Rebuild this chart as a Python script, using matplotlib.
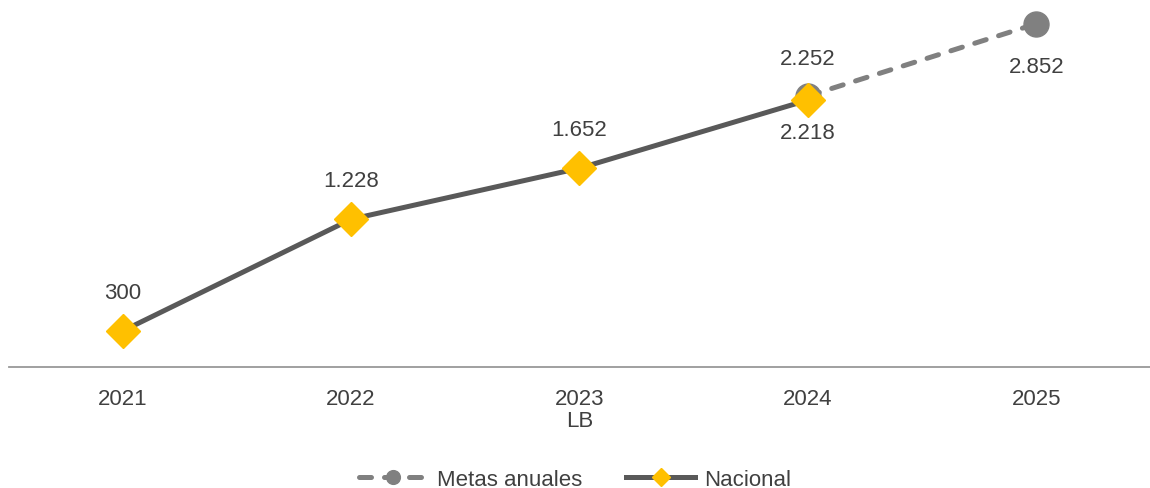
import matplotlib
matplotlib.use("Agg")
import matplotlib.pyplot as plt

plt.rcParams['font.family'] = ['Liberation Sans', 'DejaVu Sans']

# datos
anios = ['2021', '2022', '2023\nLB', '2024', '2025']
nacional = [300, 1228, 1652, 2218]
metas_idx = [3, 4]
metas = [2252, 2852]

def fmt(v):
    return f"{v:,}".replace(',', '.')

fig = plt.figure(figsize=(11.5, 4.89), dpi=100)
ax = fig.add_axes([0.0074, 0.2474, 0.993, 0.7383])

gris_metas = '#808080'
gris_nac = '#595959'
amarillo = '#FFC000'
texto = '#404040'
fs = 16

ax.plot(metas_idx, metas, color=gris_metas, lw=3.6, ls=(0, (2.4, 2.6)),
        dash_capstyle='round', marker='o', ms=18, label='Metas anuales', zorder=2)
ax.plot(range(len(nacional)), nacional, color=gris_nac, lw=3.6,
        marker='D', ms=17, mfc=amarillo, mec=amarillo, label='Nacional', zorder=3)

# etiquetas
for i, v in enumerate(nacional):
    if i == 3:
        ax.annotate(fmt(v), (i, v), xytext=(0, -23), textcoords='offset points',
                    ha='center', va='center', fontsize=fs, color=texto)
    else:
        ax.annotate(fmt(v), (i, v), xytext=(0, 28), textcoords='offset points',
                    ha='center', va='center', fontsize=fs, color=texto)
ax.annotate(fmt(metas[0]), (metas_idx[0], metas[0]), xytext=(0, 27), textcoords='offset points',
            ha='center', va='center', fontsize=fs, color=texto)
ax.annotate(fmt(metas[1]), (metas_idx[1], metas[1]), xytext=(0, -31), textcoords='offset points',
            ha='center', va='center', fontsize=fs, color=texto)

ax.set_xlim(-0.5, 4.5)
ax.set_ylim(0, 3000)
ax.set_xticks(range(len(anios)))
ax.set_xticklabels(anios, fontsize=fs, color=texto, linespacing=1.05)
ax.tick_params(axis='x', length=0, pad=15)
ax.set_yticks([])
for s in ['top', 'right', 'left']:
    ax.spines[s].set_visible(False)
ax.spines['bottom'].set_color('#999999')
ax.spines['bottom'].set_linewidth(1.3)

leg = fig.legend(loc='lower center', bbox_to_anchor=(0.5, -0.045), ncol=2, frameon=False,
                 fontsize=fs, handlelength=3.1, columnspacing=2.0, handletextpad=0.4,
                 markerscale=0.55)
for t in leg.get_texts():
    t.set_color(texto)

fig.savefig('out.png', dpi=100)
